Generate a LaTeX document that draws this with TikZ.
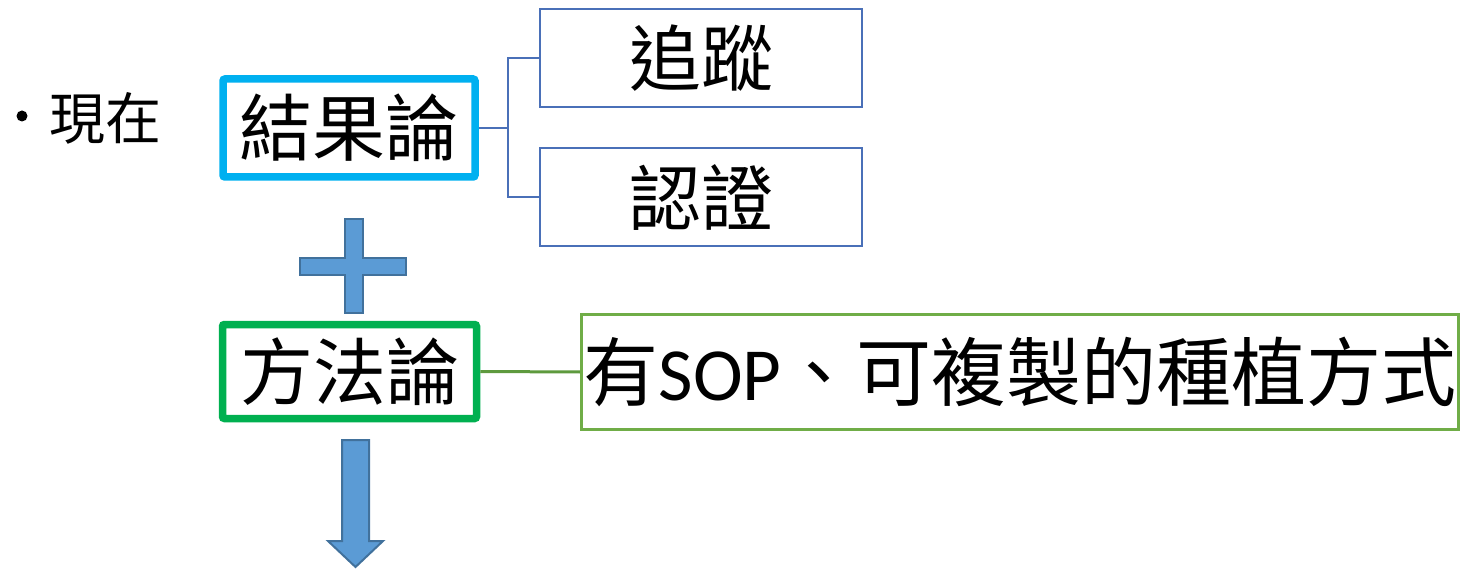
\documentclass[tikz,border=0pt]{standalone}
\usepackage{fontspec}
\newfontfamily\cjk{Noto Sans CJK TC}
\newfontfamily\lat{Carlito}
\definecolor{cyanb}{HTML}{00B0F0}
\definecolor{greenb}{HTML}{00B050}
\definecolor{blueln}{HTML}{4A70B8}
\definecolor{oliveb}{HTML}{70AD47}
\definecolor{greenln}{HTML}{5E9A3E}
\definecolor{shapefill}{HTML}{5B9BD5}
\definecolor{shapedraw}{HTML}{41719C}
\tikzset{
  bigbox/.style={draw, line width=7.5pt, rounded corners=2pt, inner sep=0pt, font=\fontsize{73}{73}\cjk, fill=white},
  thinbox/.style={draw=blueln, line width=2.2pt, inner sep=0pt, minimum width=322pt, minimum height=98pt, font=\fontsize{72}{72}\cjk},
  conn/.style={draw=blueln, line width=2.2pt},
  blockshape/.style={fill=shapefill, draw=shapedraw, line width=2pt}
}
\begin{document}
\begin{tikzpicture}[x=1pt,y=-1pt]
\useasboundingbox (0,0) rectangle (1461,569);
% bullet and label
\node[circle, fill=black, inner sep=0pt, minimum size=11pt] (bul) at (22,116) {};
\node[inner sep=0pt, font=\fontsize{56}{56}\cjk] (now) at (105,118) {現在};
% main boxes
\node[bigbox, draw=cyanb, minimum width=252pt, minimum height=98pt] (jg) at (349,128) {結果論};
\node[bigbox, draw=greenb, minimum width=254pt, minimum height=94pt] (ff) at (349.5,371.5) {方法論};
% right boxes
\node[thinbox] (zz) at (701,58) {追蹤};
\node[thinbox] (rz) at (701,197) {認證};
\node[draw=oliveb, line width=3pt, inner sep=0pt, minimum width=877pt, minimum height=115pt] (sop) at (1020,372)
  {\fontsize{75}{75}\cjk 有{\lat SOP}、可複製的種植方式};
% connectors
\coordinate (fork) at (508,128);
\draw[conn] (jg.east) -- (fork);
\draw[conn] (fork) |- (zz.west);
\draw[conn] (fork) |- (rz.west);
\draw[draw=greenln, line width=3pt] (ff.east) -- (sop.west);
% plus sign
\draw[blockshape] (345,219) -- (363,219) -- (363,258) -- (406,258) -- (406,275) -- (363,275) -- (363,313) -- (345,313) -- (345,275) -- (300,275) -- (300,258) -- (345,258) -- cycle;
% down arrow
\draw[blockshape] (342,440) -- (369,440) -- (369,541) -- (383,541) -- (355.5,567) -- (328,541) -- (342,541) -- cycle;
\end{tikzpicture}
\end{document}
